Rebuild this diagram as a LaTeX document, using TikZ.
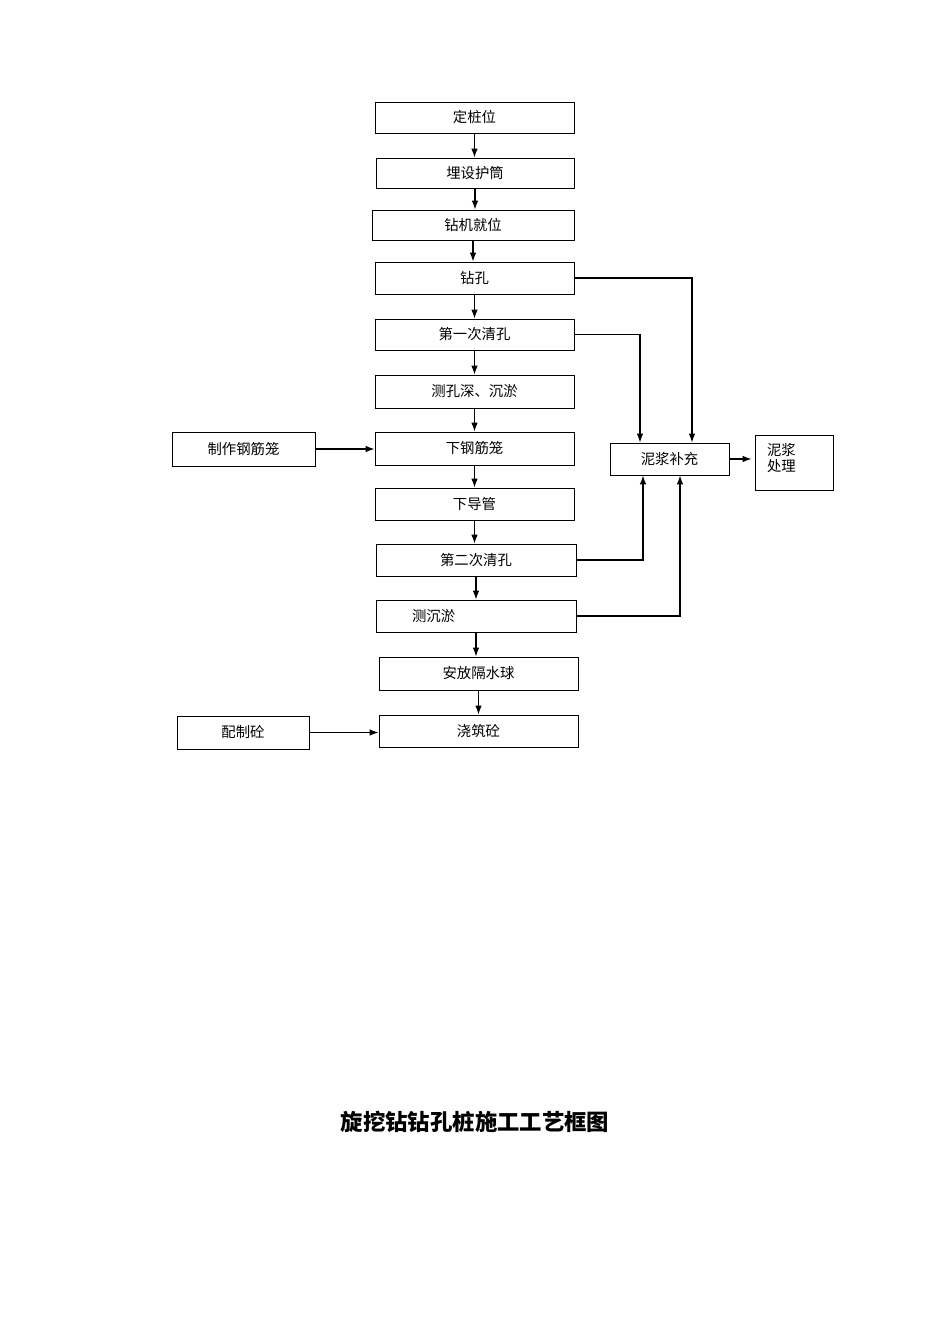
\documentclass[tikz,border=0pt]{standalone}
\usepackage{fontspec}
\newfontfamily\cjk{Noto Sans CJK SC}
\usetikzlibrary{arrows.meta}

\begin{document}
\begin{tikzpicture}[x=0.626pt,y=-0.626pt]
  \tikzstyle{etape}=[draw, line width=0.6pt, inner sep=0, font=\cjk\fontsize{9}{10}\selectfont];
  \tikzstyle{fleche}=[line width=0.65pt, -{Latex[length=5.5pt,width=4pt]}];
  \def\u{0.626pt}

  \useasboundingbox (0,0) rectangle (950,1344);

  % colonne principale
  \node[etape, minimum width=199*\u, minimum height=31*\u] (A) at (474.5,117.5) {定桩位};
  \node[etape, minimum width=198*\u, minimum height=30*\u] (B) at (475,173) {埋设护筒};
  \node[etape, minimum width=202*\u, minimum height=30*\u] (C) at (473,225) {钻机就位};
  \node[etape, minimum width=199*\u, minimum height=32*\u] (D) at (474.5,278) {钻孔};
  \node[etape, minimum width=199*\u, minimum height=31*\u] (E) at (474.5,334.5) {第一次清孔};
  \node[etape, minimum width=199*\u, minimum height=33*\u] (F) at (474.5,391.5) {测孔深、沉淤};
  \node[etape, minimum width=199*\u, minimum height=33*\u] (G) at (474.5,448.5) {下钢筋笼};
  \node[etape, minimum width=199*\u, minimum height=32*\u] (H) at (474.5,504) {下导管};
  \node[etape, minimum width=200*\u, minimum height=32*\u] (I) at (476,560) {第二次清孔};
  \node[etape, minimum height=32*\u, text width=128*\u, inner xsep=36*\u, align=left] (J) at (476,616) {测沉淤};
  \node[etape, minimum width=199*\u, minimum height=33*\u] (K) at (478.5,673.5) {安放隔水球};
  \node[etape, minimum width=199*\u, minimum height=32*\u] (L) at (478.5,731) {浇筑砼};

  % a gauche
  \node[etape, minimum width=143*\u, minimum height=34*\u] (M) at (243.5,449) {制作钢筋笼};
  \node[etape, minimum width=132*\u, minimum height=33*\u] (N) at (243,732.5) {配制砼};

  % a droite
  \node[etape, minimum width=119*\u, minimum height=32*\u] (P) at (669.5,459) {泥浆补充};
  \node[etape, font=\cjk\fontsize{9}{10.5}\selectfont, text width=54*\u, inner xsep=12*\u, text height=20*\u, text depth=35*\u, align=left] (Q) at (794,462.5) {泥浆\\处理};

  \foreach \a/\b in {A/B,B/C,C/D,D/E,E/F,F/G,G/H,H/I,I/J,J/K,K/L}
    \draw[fleche] (\a.south) -- (\a.south |- \b.north);

  \draw[fleche] (M.east) -- (M.east -| G.west);
  \draw[fleche] (N.east) -- (N.east -| L.west);

  \coordinate (xd) at (692,0);
  \coordinate (xe) at (640,0);
  \coordinate (xi) at (643,0);
  \coordinate (xj) at (680,0);
  \draw[fleche] (D.east) -| (xd |- P.north);
  \draw[fleche] (E.east) -| (xe |- P.north);
  \draw[fleche] (I.east) -| (xi |- P.south);
  \draw[fleche] (J.east) -| (xj |- P.south);
  \draw[fleche, shorten >=3*\u] (P.east) -- (P.east -| Q.west);

  \node[font=\cjk\bfseries\fontsize{14}{16}\selectfont] (titre) at (475,1122) {旋挖钻钻孔桩施工工艺框图};
\end{tikzpicture}
\end{document}
